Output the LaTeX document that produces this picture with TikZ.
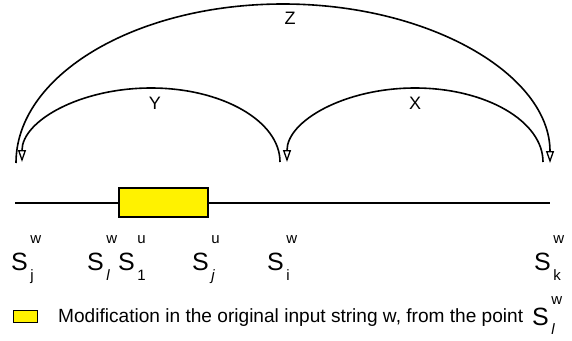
\documentclass[tikz,border=0pt]{standalone}
\usepackage{fontspec}
\setmainfont{Liberation Sans}
\usetikzlibrary{arrows.meta}
\newcommand{\SlabR}[4]{S\hspace{2.5pt}\rlap{\raisebox{#3}{\fontsize{15}{15}\selectfont #1}}\raisebox{#4}{\fontsize{15}{15}\selectfont #2}}
\newcommand{\Slab}[2]{\SlabR{#1}{#2}{27pt}{-10pt}}
\tikzset{
  arcline/.style={line width=1.6pt, -{Triangle[open,length=12pt,width=8pt,line width=1.3pt]}},
  slabel/.style={anchor=base west, inner sep=0pt, font=\fontsize{25}{25}\selectfont},
  arclabel/.style={font=\fontsize{18}{18}\selectfont, inner sep=0pt},
  modbox/.style={draw=black, fill=yellow, line width=1.6pt},
}
\begin{document}
\begin{tikzpicture}[x=1pt,y=-1pt]
\useasboundingbox (0,0) rectangle (572,340);
% endpoints
\coordinate (zs) at (16,163);
\coordinate (ys) at (280,162);
\coordinate (xs) at (543,162);
% arcs
\draw[arcline] (zs) arc[start angle=180,end angle=0,x radius=267,y radius=-159] coordinate (ze);
\draw[arcline] (ys) arc[start angle=0,end angle=180,x radius=129,y radius=-74] coordinate (ye);
\draw[arcline] (xs) arc[start angle=0,end angle=180,x radius=128,y radius=-74] coordinate (xe);
\node[arclabel] (lz) at (290,18) {Z};
\node[arclabel] (ly) at (155,103) {Y};
\node[arclabel] (lx) at (415,103) {X};
% string line
\coordinate (la) at (15,203);
\coordinate (lb) at (550,203);
\draw[line width=1.8pt] (la) -- (lb);
\node[modbox, minimum width=89pt, minimum height=29pt, inner sep=0pt] (mod) at (163.5,202.5) {};
% labels
\node[slabel] (sjw) at (11,270) {\Slab{w}{j}};
\node[slabel] (slw) at (87,270) {\Slab{w}{\itshape l}};
\node[slabel] (s1u) at (118,270) {\Slab{u}{1}};
\node[slabel] (sju) at (192,270) {\Slab{u}{\itshape j}};
\node[slabel] (siw) at (267,270) {\Slab{w}{i}};
\node[slabel] (skw) at (534,270) {\Slab{w}{k}};
% legend
\node[modbox, minimum width=24pt, minimum height=12pt, inner sep=0pt] (legbox) at (25.5,316.5) {};
\node[anchor=base west, inner sep=0pt, font=\fontsize{19.1}{19.1}\selectfont] (legtext) at (58,322) {Modification in the original input string w, from the point};
\node[slabel] (legs) at (532,325) {\SlabR{w}{\itshape l}{21pt}{-9pt}};
\end{tikzpicture}
\end{document}
